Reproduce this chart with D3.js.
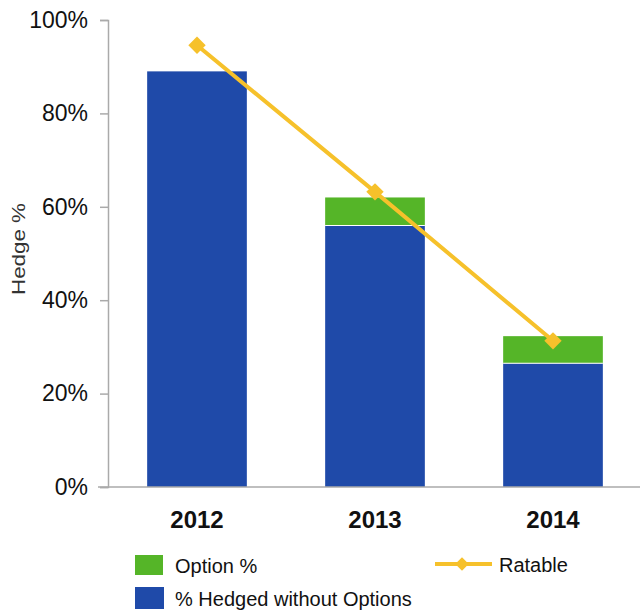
<!DOCTYPE html>
<html>
<head>
<meta charset="utf-8">
<script src="https://cdn.jsdelivr.net/npm/d3@7"></script>
<style>
  body { margin: 0; background: #fff; }
  text { font-family: "Liberation Sans", Arial, sans-serif; }
</style>
</head>
<body>
<div id="chart"></div>
<script>
var years = ["2012", "2013", "2014"];
var hedgedNoOptions = [89, 56, 26.5];
var optionPct = [0, 6, 5.8];
var ratable = [94.6, 63.2, 31.3];
var yTicks = [0, 20, 40, 60, 80, 100];

var width = 640, height = 613;
var svg = d3.select("#chart").append("svg")
  .attr("width", width)
  .attr("height", height);

var x = d3.scaleBand().domain(years).range([108, 642]).paddingInner(0.44).paddingOuter(0.22);
var y = d3.scaleLinear().domain([0, 100]).range([487, 20]);

// bars
var g = svg.append("g");
g.selectAll("rect.base")
  .data(years)
  .enter().append("rect")
  .attr("class", "base")
  .attr("x", function(d) { return x(d); })
  .attr("width", x.bandwidth())
  .attr("y", function(d, i) { return y(hedgedNoOptions[i]); })
  .attr("height", function(d, i) { return y(0) - y(hedgedNoOptions[i]); })
  .attr("fill", "#1f4aa9");

g.selectAll("rect.opt")
  .data(years)
  .enter().append("rect")
  .attr("class", "opt")
  .attr("x", function(d) { return x(d); })
  .attr("width", x.bandwidth())
  .attr("y", function(d, i) { return y(hedgedNoOptions[i] + optionPct[i]); })
  .attr("height", function(d, i) { return y(hedgedNoOptions[i]) - y(hedgedNoOptions[i] + optionPct[i]); })
  .attr("fill", "#55b528");

// thin white gap between the two stacked parts
g.selectAll("line.sep")
  .data(years.filter(function(d, i) { return optionPct[i] > 0; }))
  .enter().append("line")
  .attr("class", "sep")
  .attr("x1", function(d) { return x(d); })
  .attr("x2", function(d) { return x(d) + x.bandwidth(); })
  .attr("y1", function(d) { return y(hedgedNoOptions[years.indexOf(d)]); })
  .attr("y2", function(d) { return y(hedgedNoOptions[years.indexOf(d)]); })
  .attr("stroke", "#fff")
  .attr("stroke-width", 1.2);

// axes
svg.append("line")
  .attr("x1", 98).attr("x2", 640)
  .attr("y1", y(0)).attr("y2", y(0))
  .attr("stroke", "#aaa").attr("stroke-width", 1.5);

var yAxis = svg.append("g")
  .attr("transform", "translate(108,0)")
  .call(d3.axisLeft(y).tickValues(yTicks).tickSize(8).tickPadding(12)
    .tickFormat(function(d) { return d + "%"; }));
yAxis.select(".domain").attr("stroke", "#aaa").attr("stroke-width", 1.5);
yAxis.selectAll(".tick line").attr("stroke", "#aaa").attr("stroke-width", 1.5);
yAxis.selectAll(".tick text")
  .attr("font-size", 23)
  .attr("font-family", "Liberation Sans, Arial, sans-serif")
  .attr("fill", "#111");

var xAxis = svg.append("g")
  .attr("transform", "translate(0," + y(0) + ")")
  .call(d3.axisBottom(x).tickSize(0).tickPadding(24));
xAxis.select(".domain").remove();
xAxis.selectAll(".tick text")
  .attr("font-size", 24)
  .attr("font-weight", "bold")
  .attr("font-family", "Liberation Sans, Arial, sans-serif")
  .attr("fill", "#111");

svg.append("text")
  .attr("transform", "translate(25,249)rotate(-90)")
  .attr("text-anchor", "middle")
  .attr("font-size", 18)
  .attr("textLength", 92)
  .attr("lengthAdjust", "spacingAndGlyphs")
  .attr("fill", "#333")
  .text("Hedge %");

// ratable line
var line = d3.line()
  .x(function(d, i) { return x(years[i]) + x.bandwidth() / 2; })
  .y(function(d) { return y(d); });

svg.append("path")
  .datum(ratable)
  .attr("d", line)
  .attr("fill", "none")
  .attr("stroke", "#f6c12b")
  .attr("stroke-width", 4);

svg.selectAll("path.pt")
  .data(ratable)
  .enter().append("path")
  .attr("class", "pt")
  .attr("d", d3.symbol().type(d3.symbolSquare).size(150))
  .attr("transform", function(d, i) {
    return "translate(" + (x(years[i]) + x.bandwidth() / 2) + "," + y(d) + ")rotate(45)";
  })
  .attr("fill", "#f6c12b");

// legend
var legend = svg.append("g");
legend.append("rect").attr("x", 135).attr("y", 555).attr("width", 28).attr("height", 20).attr("fill", "#55b528");
legend.append("text").attr("x", 175).attr("y", 573).attr("font-size", 20).attr("fill", "#111").text("Option %");
legend.append("rect").attr("x", 135).attr("y", 587).attr("width", 29).attr("height", 22).attr("fill", "#1f4aa9");
legend.append("text").attr("x", 175).attr("y", 606).attr("font-size", 20).attr("fill", "#111").text("% Hedged without Options");

legend.append("line").attr("x1", 435).attr("x2", 492).attr("y1", 564).attr("y2", 564)
  .attr("stroke", "#f6c12b").attr("stroke-width", 4);
legend.append("path")
  .attr("d", d3.symbol().type(d3.symbolSquare).size(90))
  .attr("transform", "translate(462,564)rotate(45)")
  .attr("fill", "#f6c12b");
legend.append("text").attr("x", 499).attr("y", 572).attr("font-size", 20).attr("fill", "#111").text("Ratable");
</script>
</body>
</html>
